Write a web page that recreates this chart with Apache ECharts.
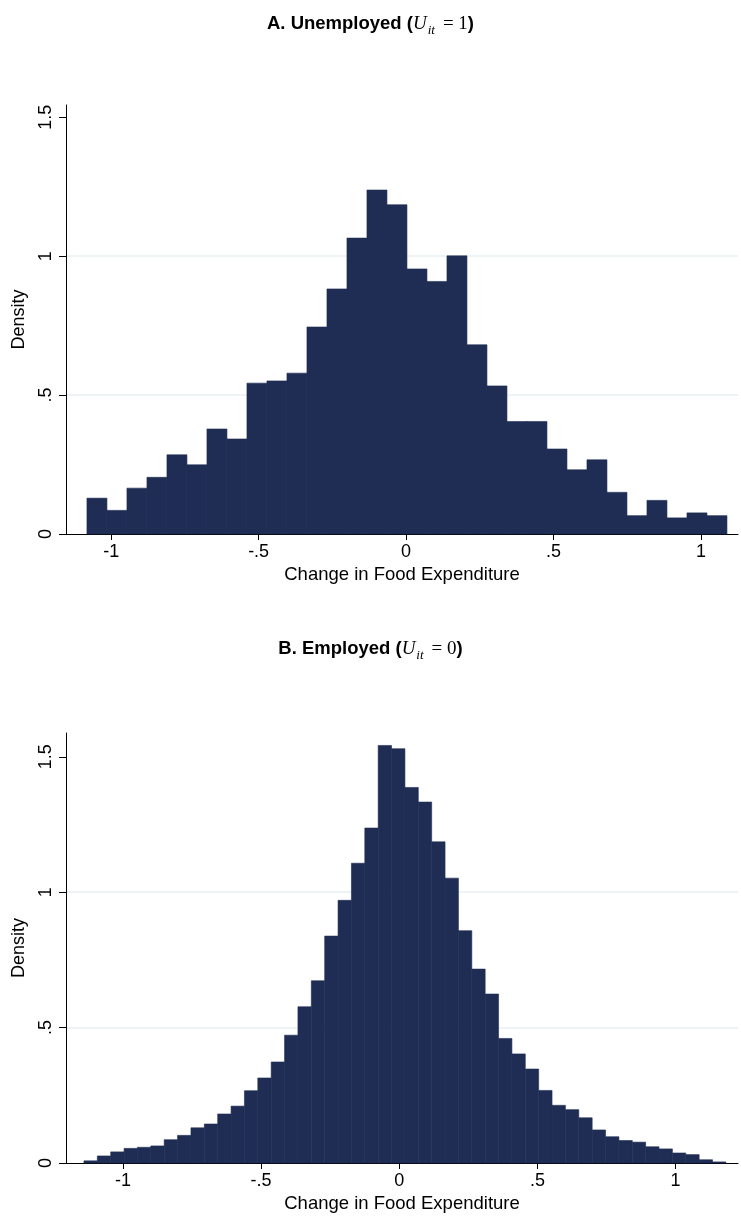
<!DOCTYPE html>
<html>
<head>
<meta charset="utf-8">
<script src="https://cdn.jsdelivr.net/npm/echarts@6/dist/echarts.min.js"></script>
<style>
  html, body { margin: 0; padding: 0; background: #fff; }
  #chart { width: 741px; height: 1219px; }
</style>
</head>
<body>
<div id="chart"></div>
<script>
// A. Unemployed: histogram densities, 32 bins
var unempBinStart = -1.082;
var unempBinWidth = 0.0678;
var unempDensity = [
  0.129, 0.085, 0.165, 0.204, 0.285, 0.249, 0.378, 0.342,
  0.543, 0.551, 0.579, 0.745, 0.882, 1.065, 1.238, 1.185,
  0.954, 0.909, 1.001, 0.681, 0.533, 0.405, 0.405, 0.306,
  0.231, 0.267, 0.150, 0.066, 0.121, 0.058, 0.076, 0.066
];

// B. Employed: histogram densities, 48 bins
var empBinStart = -1.141;
var empBinWidth = 0.0484;
var empDensity = [
  0.008, 0.026, 0.041, 0.054, 0.058, 0.063, 0.086, 0.102,
  0.130, 0.144, 0.181, 0.210, 0.267, 0.314, 0.373, 0.472,
  0.577, 0.673, 0.838, 0.970, 1.107, 1.237, 1.542, 1.530,
  1.387, 1.333, 1.186, 1.052, 0.858, 0.716, 0.624, 0.460,
  0.403, 0.347, 0.268, 0.213, 0.197, 0.167, 0.122, 0.097,
  0.083, 0.077, 0.060, 0.052, 0.037, 0.031, 0.012, 0.004
];

var xTicks = [-1, -0.5, 0, 0.5, 1];
var yTicks = [0, 0.5, 1, 1.5];

var barColor = '#1f2d54';
var fontSans = 'Liberation Sans';

// 0.5 -> ".5", -0.5 -> "-.5"
function stataLabel(v) {
  if (v === 0) return '0';
  return String(v).replace('0.', '.');
}

// turn bin heights into [left, right, height]
function toBins(start, width, heights) {
  var out = [];
  heights.forEach(function(h, i) {
    out.push([start + i * width, start + (i + 1) * width, h]);
  });
  return out;
}

function renderBin(params, api) {
  var p0 = api.coord([api.value(0), api.value(2)]);
  var p1 = api.coord([api.value(1), 0]);
  return {
    type: 'rect',
    shape: { x: p0[0], y: p0[1], width: p1[0] - p0[0], height: p1[1] - p0[1] },
    style: { fill: barColor, stroke: barColor, lineWidth: 0.6 }
  };
}

function makeXAxis(idx, min, max) {
  return {
    type: 'value', gridIndex: idx, min: min, max: max,
    name: 'Change in Food Expenditure', nameLocation: 'middle', nameGap: 31,
    nameTextStyle: { fontFamily: fontSans, fontSize: 18.5, color: '#000' },
    axisLine: { onZero: false, lineStyle: { color: '#000', width: 1 } },
    axisTick: { show: true, length: 6, customValues: xTicks, lineStyle: { color: '#000' } },
    axisLabel: { customValues: xTicks, formatter: stataLabel, margin: 9,
      fontFamily: fontSans, fontSize: 18, color: '#000' },
    splitLine: { show: false }
  };
}

function makeYAxis(idx, max) {
  return {
    type: 'value', gridIndex: idx, min: 0, max: max, interval: 0.5,
    name: 'Density', nameLocation: 'middle', nameGap: 38, nameRotate: 90,
    nameTextStyle: { fontFamily: fontSans, fontSize: 18, color: '#000' },
    axisLine: { show: true, onZero: false, lineStyle: { color: '#000', width: 1 } },
    axisTick: { show: true, length: 7, customValues: yTicks, lineStyle: { color: '#000' } },
    axisLabel: { customValues: yTicks, formatter: stataLabel, rotate: 90, margin: 11,
      fontFamily: fontSans, fontSize: 18, color: '#000' },
    splitLine: { show: true, showMinLine: false, showMaxLine: false,
      lineStyle: { color: '#e8f0f3', width: 1.5 } }
  };
}

function makeTitle(letter, label, val, top) {
  return {
    text: '{b|' + letter + '. ' + label + ' (}{m|U}{s|it}{n|= ' + val + '}{b|)}',
    left: 'center', top: top,
    textStyle: {
      fontWeight: 'normal',
      rich: {
        b: { fontFamily: fontSans, fontWeight: 'bold', fontSize: 18.5, color: '#000',
             lineHeight: 22, verticalAlign: 'middle' },
        m: { fontFamily: 'Liberation Serif', fontStyle: 'italic', fontWeight: 'normal',
             fontSize: 19, color: '#000', lineHeight: 22, verticalAlign: 'middle' },
        s: { fontFamily: 'Liberation Serif', fontStyle: 'italic', fontWeight: 'normal',
             fontSize: 13, color: '#000', lineHeight: 13, verticalAlign: 'top',
             padding: [11, 8, 0, 1] },
        n: { fontFamily: 'Liberation Serif', fontWeight: 'normal', fontSize: 19,
             color: '#000', lineHeight: 22, verticalAlign: 'middle' }
      }
    }
  };
}

var myChart = echarts.init(document.getElementById('chart'), null, { renderer: 'canvas' });

var option = {
  backgroundColor: '#fff',
  animation: false,
  title: [
    makeTitle('A', 'Unemployed', 1, 8),
    makeTitle('B', 'Employed', 0, 633)
  ],
  grid: [
    { left: 66, top: 105, width: 672, height: 429 },
    { left: 66, top: 733, width: 672, height: 430 }
  ],
  xAxis: [
    makeXAxis(0, -1.153, 1.125),
    makeXAxis(1, -1.206, 1.226)
  ],
  yAxis: [
    makeYAxis(0, 1.544),
    makeYAxis(1, 1.588)
  ],
  series: [
    {
      type: 'custom', xAxisIndex: 0, yAxisIndex: 0,
      renderItem: renderBin, encode: { x: [0, 1], y: 2 },
      data: toBins(unempBinStart, unempBinWidth, unempDensity)
    },
    {
      type: 'custom', xAxisIndex: 1, yAxisIndex: 1,
      renderItem: renderBin, encode: { x: [0, 1], y: 2 },
      data: toBins(empBinStart, empBinWidth, empDensity)
    }
  ]
};

myChart.setOption(option);
</script>
</body>
</html>
